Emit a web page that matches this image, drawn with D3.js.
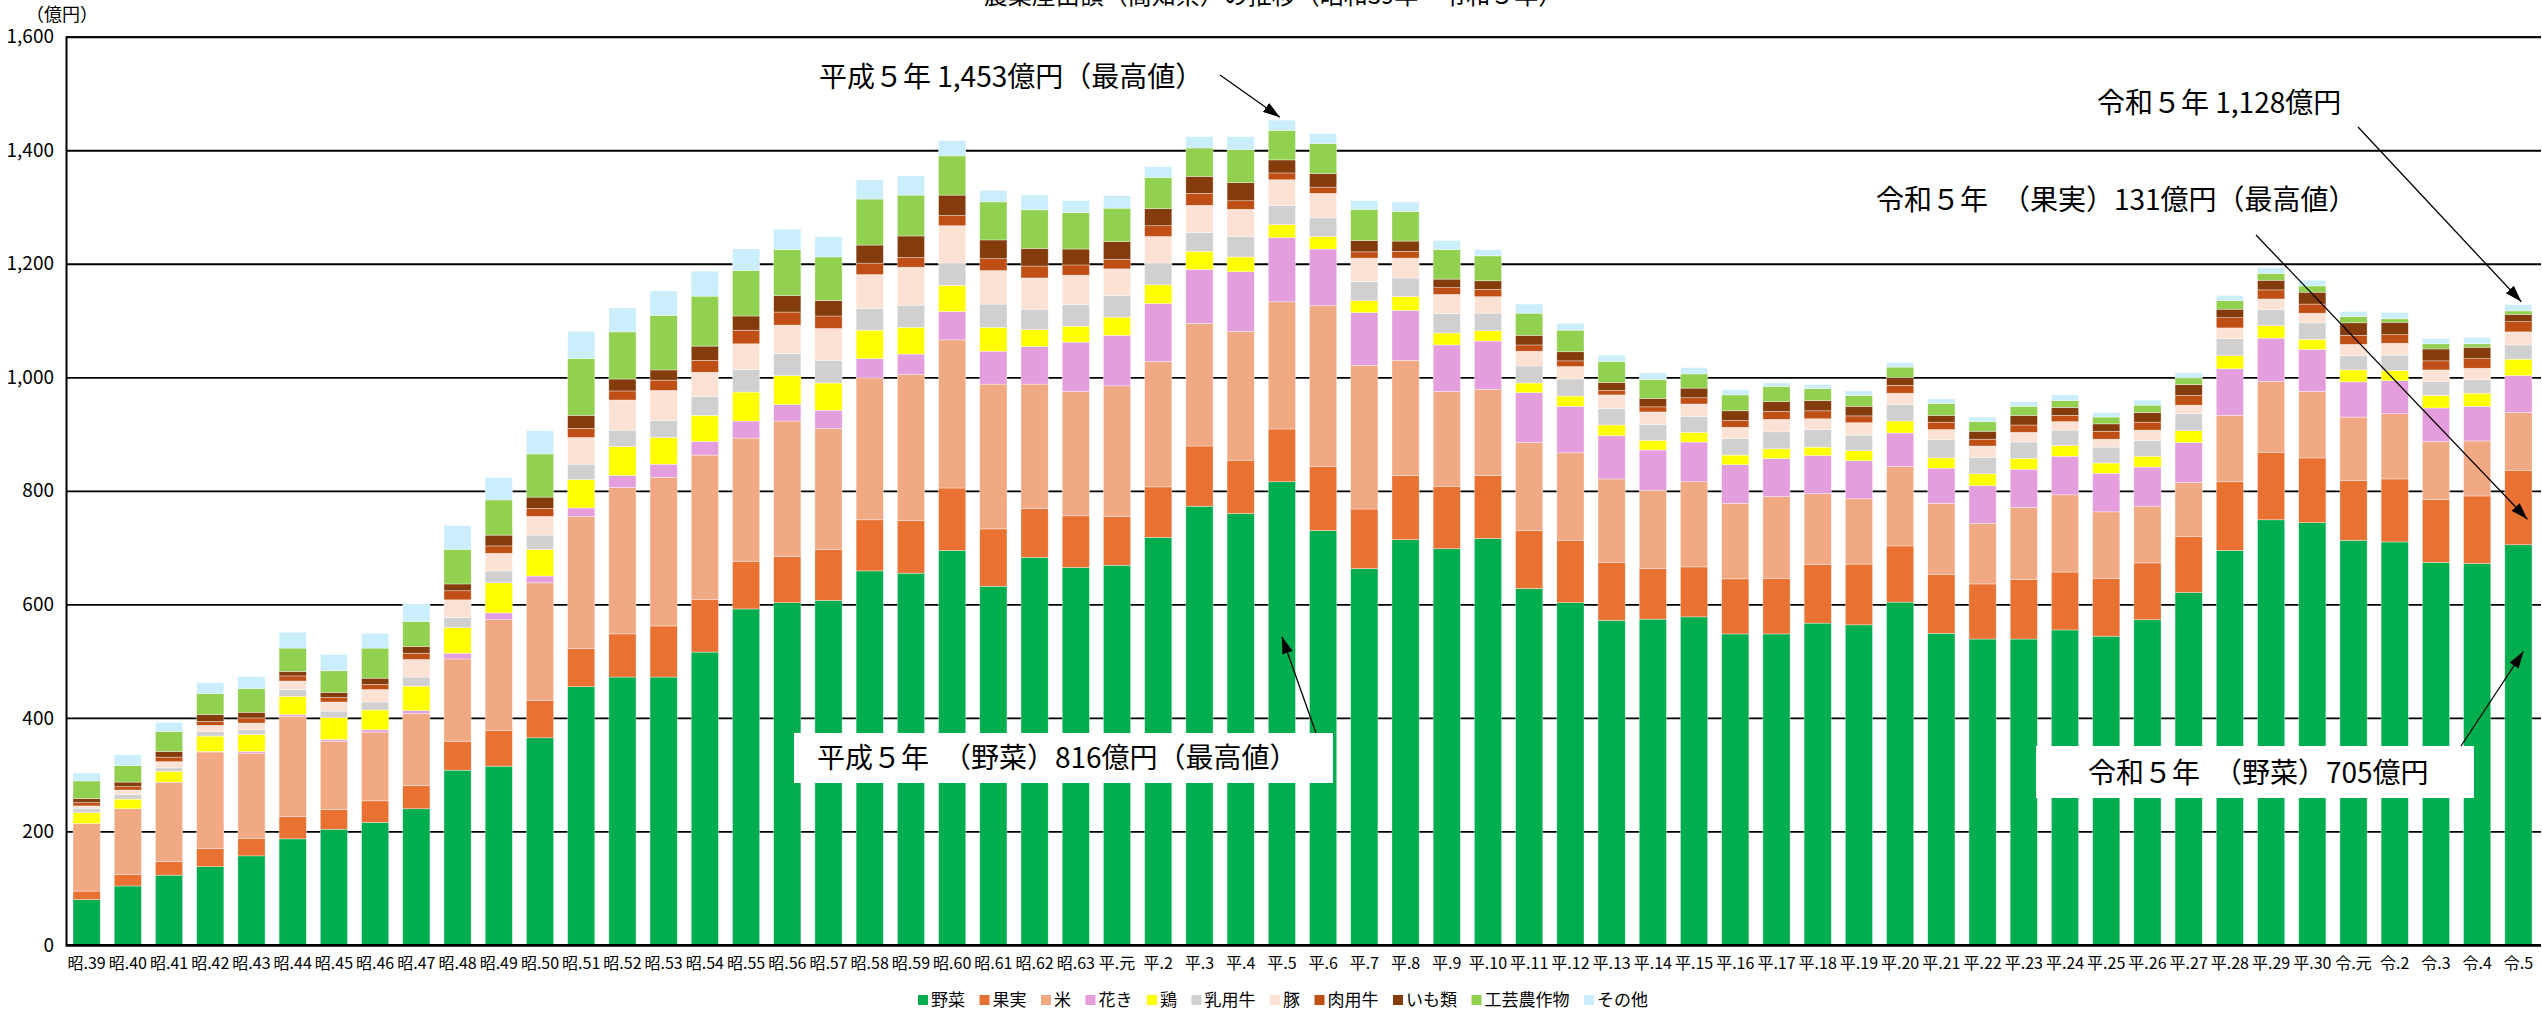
<!DOCTYPE html>
<html lang="ja">
<head>
<meta charset="utf-8">
<script src="https://cdn.jsdelivr.net/npm/d3@7"></script>
<style>
  html, body { margin: 0; padding: 0; background: #fff; overflow: hidden; }
  svg { display: block; }
  text { font-family: 'Liberation Sans Narrow', 'Noto Sans CJK JP', sans-serif; fill: #000; }
</style>
</head>
<body>
<svg id="chart"></svg>
<script>
const years = [
    '昭.39', '昭.40', '昭.41', '昭.42', '昭.43', '昭.44', '昭.45', '昭.46', '昭.47', '昭.48',
    '昭.49', '昭.50', '昭.51', '昭.52', '昭.53', '昭.54', '昭.55', '昭.56', '昭.57', '昭.58',
    '昭.59', '昭.60', '昭.61', '昭.62', '昭.63', '平.元', '平.2', '平.3', '平.4', '平.5',
    '平.6', '平.7', '平.8', '平.9', '平.10', '平.11', '平.12', '平.13', '平.14', '平.15',
    '平.16', '平.17', '平.18', '平.19', '平.20', '平.21', '平.22', '平.23', '平.24', '平.25',
    '平.26', '平.27', '平.28', '平.29', '平.30', '令.元', '令.2', '令.3', '令.4', '令.5'
];

const vegetables = [
    80, 104, 123, 138, 157, 187, 204, 216, 240, 308,
    315, 365, 455, 472, 472, 516, 592, 603, 607, 659,
    655, 695, 632, 683, 665, 669, 718, 773, 760, 816,
    730, 663, 714, 698, 716, 628, 603, 572, 574, 578,
    548, 548, 567, 564, 604, 549, 539, 539, 555, 544,
    573, 621, 695, 749, 744, 713, 710, 674, 672, 705
];
const fruits = [
    15, 20, 24, 32, 31, 39, 35, 38, 41, 51,
    63, 66, 67, 76, 90, 93, 84, 81, 90, 90,
    93, 110, 101, 86, 91, 86, 89, 106, 94, 93,
    113, 105, 113, 110, 111, 102, 110, 102, 89, 88,
    97, 98, 103, 107, 99, 104, 97, 105, 102, 102,
    100, 99, 121, 119, 114, 105, 111, 111, 119, 131
];
const rice = [
    119, 116, 139, 170, 150, 177, 120, 121, 127, 145,
    195, 207, 233, 258, 262, 254, 217, 239, 213, 250,
    257, 261, 255, 219, 219, 230, 221, 216, 227, 224,
    283, 253, 203, 167, 152, 155, 154, 147, 138, 150,
    133, 144, 125, 115, 140, 125, 107, 127, 136, 117,
    100, 95, 117, 125, 117, 112, 115, 102, 97, 102
];
const flowers = [
    0, 0, 1, 1, 3, 3, 3, 4, 5, 10,
    12, 12, 15, 21, 23, 24, 30, 29, 32, 34,
    36, 50, 58, 66, 87, 89, 102, 95, 105, 113,
    100, 93, 88, 82, 85, 88, 82, 76, 71, 70,
    68, 67, 67, 67, 59, 62, 66, 67, 68, 68,
    69, 70, 82, 76, 74, 62, 58, 59, 61, 65
];
const chicken = [
    19, 17, 19, 27, 30, 32, 39, 35, 43, 45,
    53, 47, 50, 51, 47, 46, 51, 51, 48, 50,
    47, 46, 42, 30, 28, 32, 33, 32, 26, 23,
    22, 21, 24, 21, 18, 17, 18, 19, 17, 17,
    17, 17, 15, 18, 21, 18, 21, 19, 19, 18,
    19, 21, 23, 22, 18, 21, 18, 22, 23, 29
];
const dairyCattle = [
    8, 8, 6, 8, 8, 12, 11, 14, 16, 18,
    21, 25, 27, 29, 30, 33, 40, 39, 40, 38,
    39, 39, 41, 36, 38, 38, 38, 33, 36, 34,
    33, 34, 33, 34, 31, 30, 30, 29, 28, 28,
    29, 30, 31, 27, 29, 32, 29, 29, 27, 28,
    28, 30, 30, 28, 29, 25, 27, 25, 24, 25
];
const pigs = [
    4, 8, 11, 11, 12, 15, 16, 22, 31, 31,
    31, 33, 47, 53, 53, 43, 45, 50, 56, 60,
    67, 66, 59, 55, 52, 47, 47, 48, 48, 45,
    43, 41, 35, 34, 29, 26, 22, 24, 22, 22,
    20, 22, 19, 22, 20, 18, 20, 17, 15, 14,
    18, 15, 19, 19, 17, 20, 21, 20, 20, 23
];
const beefCattle = [
    6, 6, 8, 7, 9, 9, 8, 9, 11, 16,
    13, 14, 16, 16, 18, 21, 24, 23, 22, 20,
    17, 18, 21, 21, 18, 17, 19, 21, 15, 12,
    11, 11, 12, 12, 13, 11, 10, 8, 9, 11,
    12, 14, 14, 12, 14, 13, 12, 13, 11, 14,
    14, 17, 18, 16, 16, 16, 15, 16, 17, 18
];
const potatoes = [
    7, 8, 10, 12, 10, 8, 9, 11, 12, 12,
    19, 20, 23, 21, 18, 25, 25, 29, 27, 32,
    38, 36, 33, 31, 28, 31, 30, 30, 32, 23,
    24, 20, 18, 15, 15, 17, 16, 14, 15, 17,
    17, 17, 18, 17, 14, 12, 14, 17, 14, 13,
    17, 19, 15, 17, 21, 22, 22, 21, 20, 13
];
const industrialCrops = [
    31, 29, 35, 37, 42, 41, 38, 53, 44, 61,
    62, 76, 100, 83, 96, 88, 80, 81, 77, 81,
    72, 69, 67, 68, 64, 59, 55, 50, 58, 52,
    53, 55, 52, 52, 44, 39, 38, 37, 33, 25,
    28, 27, 21, 19, 18, 21, 17, 16, 12, 12,
    13, 12, 15, 12, 11, 11, 6, 9, 6, 6
];
const others = [
    14, 19, 16, 19, 21, 28, 29, 26, 31, 42,
    39, 41, 48, 42, 43, 44, 38, 36, 36, 34,
    34, 27, 20, 26, 21, 22, 19, 20, 23, 18,
    17, 15, 17, 16, 11, 16, 12, 11, 12, 11,
    9, 6, 7, 8, 8, 8, 8, 8, 10, 8,
    9, 9, 9, 10, 10, 9, 11, 9, 11, 11
];

const seriesNames = ['野菜', '果実', '米', '花き', '鶏', '乳用牛', '豚', '肉用牛', 'いも類', '工芸農作物', 'その他'];
const seriesValues = [vegetables, fruits, rice, flowers, chicken, dairyCattle, pigs, beefCattle, potatoes, industrialCrops, others];
const seriesColors = ['#00ad4f', '#e97132', '#f1a983', '#e49edd', '#ffff00', '#d0d0d0', '#fbe2d5', '#c04f15', '#843c0c', '#92d050', '#caeefb'];
const yTicks = [0, 200, 400, 600, 800, 1000, 1200, 1400, 1600];

const width = 2542;
const height = 1010;
const plot = { left: 66, right: 2541, top: 36.7, bottom: 945 };

const table = years.map((year, i) => {
    const row = { year };
    seriesNames.forEach((name, k) => { row[name] = seriesValues[k][i]; });
    return row;
});

const svg = d3.select('#chart')
    .attr('width', width)
    .attr('height', height);

const x = d3.scaleBand()
    .domain(years)
    .range([plot.left, 2539])
    .paddingInner(0.34)
    .paddingOuter(0.17);

const y = d3.scaleLinear()
    .domain([0, 1600])
    .range([plot.bottom, plot.top]);

const color = d3.scaleOrdinal()
    .domain(seriesNames)
    .range(seriesColors);

svg.append('text')
    .attr('x', 1273)
    .attr('y', 4)
    .attr('text-anchor', 'middle')
    .style('font-size', '24px')
    .text('農業産出額（高知県）の推移（昭和39年～令和５年）');

svg.append('text')
    .attr('x', 62)
    .attr('y', 21)
    .attr('text-anchor', 'middle')
    .style('font-size', '18px')
    .text('（億円）');

const yAxis = svg.append('g')
    .attr('transform', `translate(${plot.left},0)`)
    .call(d3.axisLeft(y)
        .tickValues(yTicks)
        .tickSize(-(plot.right - plot.left))
        .tickPadding(12)
        .tickFormat(d3.format(',')));

yAxis.select('.domain')
    .attr('stroke', '#000')
    .attr('stroke-width', 2);

yAxis.selectAll('.tick line')
    .attr('stroke', '#000')
    .attr('stroke-width', 1.8);

yAxis.selectAll('.tick text')
    .style('font-size', '19px');

const stacked = d3.stack().keys(seriesNames)(table);

svg.append('g')
    .selectAll('g')
    .data(stacked)
    .enter()
    .append('g')
    .attr('fill', d => color(d.key))
    .selectAll('rect')
    .data(d => d)
    .enter()
    .append('rect')
    .attr('x', d => x(d.data.year))
    .attr('width', x.bandwidth())
    .attr('y', d => y(d[1]))
    .attr('height', d => y(d[0]) - y(d[1]))
    .attr('stroke', '#fff')
    .attr('stroke-width', 0.6)
    .attr('stroke-opacity', 0.6);

const xAxis = svg.append('g')
    .attr('transform', `translate(0,${plot.bottom})`)
    .call(d3.axisBottom(x).tickSize(0).tickSizeOuter(0).tickPadding(13));

xAxis.select('.domain')
    .attr('d', `M${plot.left},0H${plot.right}`)
    .attr('stroke', '#000')
    .attr('stroke-width', 2);

xAxis.selectAll('.tick text')
    .style('font-size', '16px');

// legend
const legend = svg.append('g');
const legendItems = legend.selectAll('g')
    .data(seriesNames)
    .enter()
    .append('g');

legendItems.append('rect')
    .attr('width', 10)
    .attr('height', 10)
    .attr('y', -5)
    .attr('fill', d => color(d));

legendItems.append('text')
    .attr('x', 13)
    .attr('dy', '0.35em')
    .style('font-size', '17px')
    .text(d => d);

const legendGap = 14.5;
let offset = 0;
legendItems.each(function () {
    const w = 13 + this.querySelector('text').getComputedTextLength();
    d3.select(this).attr('transform', `translate(${offset},0)`);
    offset += w + legendGap;
});
const legendWidth = offset - legendGap;
legend.attr('transform', `translate(${1283 - legendWidth / 2},1000)`);

// annotations
const defs = svg.append('defs');
defs.append('marker')
    .attr('id', 'arrow')
    .attr('viewBox', '0 0 10 10')
    .attr('refX', 10)
    .attr('refY', 5)
    .attr('markerWidth', 17)
    .attr('markerHeight', 11)
    .attr('markerUnits', 'userSpaceOnUse')
    .attr('preserveAspectRatio', 'none')
    .attr('orient', 'auto')
    .append('path')
    .attr('d', 'M0,0L10,5L0,10Z')
    .attr('fill', '#000');

const boxes = [
    { x0: 794, x1: 1333, y0: 733, y1: 783 },
    { x0: 2036, x1: 2474, y0: 746, y1: 798 }
];

svg.append('g')
    .selectAll('rect')
    .data(boxes)
    .enter()
    .append('rect')
    .attr('x', d => d.x0)
    .attr('y', d => d.y0)
    .attr('width', d => d.x1 - d.x0)
    .attr('height', d => d.y1 - d.y0)
    .attr('fill', '#fff');

const notes = [
    { text: '平成５年 1,453億円（最高値）', x: 819, y: 77, from: [1220, 75], year: '平.5', value: 1458, dx: -2 },
    { text: '令和５年 1,128億円', x: 2097, y: 103, from: [2358, 127], year: '令.5', value: 1133, dx: 3 },
    { text: '令和５年　（果実）131億円（最高値）', x: 1876, y: 200, from: [2256, 235], year: '令.5', value: 750, dx: 9 },
    { text: '平成５年　（野菜）816億円（最高値）', x: 817, y: 758, from: [1316, 733], year: '平.5', value: 543, dx: 0 },
    { text: '令和５年　（野菜）705億円', x: 2088, y: 773, from: [2461, 746], year: '令.5', value: 517, dx: 5 }
];

const noteGroup = svg.append('g');

noteGroup.selectAll('line')
    .data(notes)
    .enter()
    .append('line')
    .attr('x1', d => d.from[0])
    .attr('y1', d => d.from[1])
    .attr('x2', d => x(d.year) + x.bandwidth() / 2 + d.dx)
    .attr('y2', d => y(d.value))
    .attr('stroke', '#000')
    .attr('stroke-width', 1.3)
    .attr('marker-end', 'url(#arrow)');

noteGroup.selectAll('text')
    .data(notes)
    .enter()
    .append('text')
    .attr('x', d => d.x)
    .attr('y', d => d.y)
    .attr('dy', '0.36em')
    .style('font-size', '28px')
    .text(d => d.text);
</script>
</body>
</html>
